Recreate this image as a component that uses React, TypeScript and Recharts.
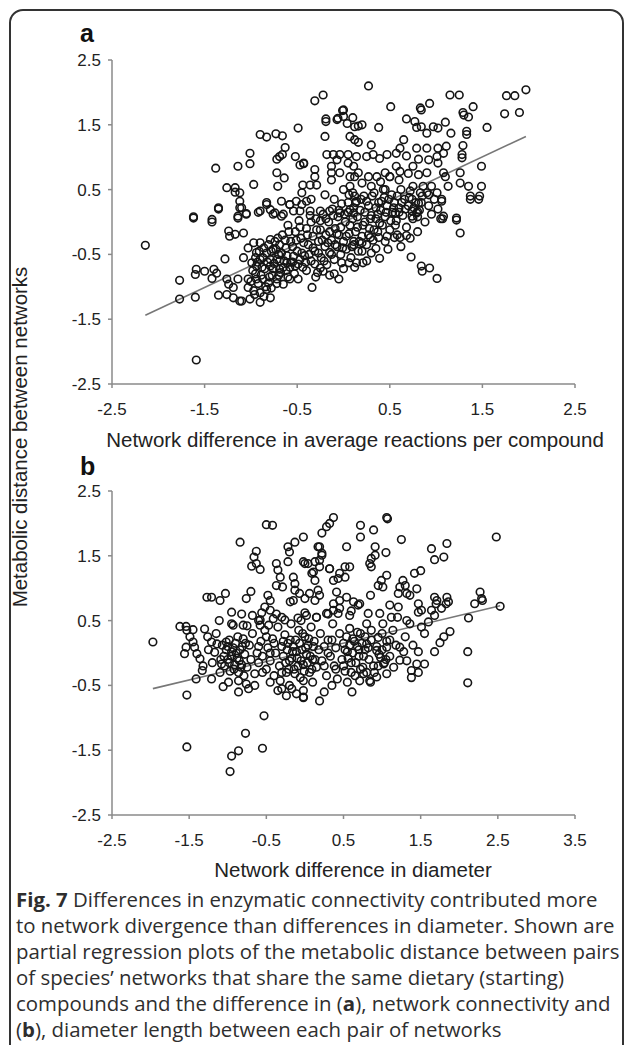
import React from 'react';
import { ScatterChart, Scatter, XAxis, YAxis, ReferenceLine } from 'recharts';

// tick values shared by both panels
const yTicks = [-2.5, -1.5, -0.5, 0.5, 1.5, 2.5];
const aTicksX = [-2.5, -1.5, -0.5, 0.5, 1.5, 2.5];
const bTicksX = [-2.5, -1.5, -0.5, 0.5, 1.5, 2.5, 3.5];

// regression line end points [x, y]
const aFit = [[-2.14, -1.44], [1.97, 1.32]];
const bFit = [[-1.97, -0.55], [2.53, 0.73]];

// panel a: difference in average reactions per compound vs metabolic distance
const aPoints = [
    [-0.22, 1.96], [-0.31, 1.87], [-0.01, 1.72], [0.0, 1.63], [0.1, 1.61], [-0.19, 1.59], [-0.19, 1.55],
    [-0.07, 1.58], [0.04, 1.52], [0.12, 1.47], [-0.2, 1.32], [0.07, 1.32], [-0.49, 1.45], [-0.9, 1.35],
    [-0.83, 1.31], [-0.73, 1.36], [-0.66, 1.33], [-0.63, 1.15], [-1.01, 1.06], [-1.01, 0.9], [-1.14, 0.86],
    [-1.38, 0.83], [-0.69, 1.01], [-0.66, 1.04], [-0.72, 0.97], [-0.52, 1.01], [-0.47, 0.88], [-0.43, 0.9],
    [-0.72, 0.76], [-0.64, 0.68], [-0.71, 0.55], [-0.31, 0.81], [-0.31, 0.7], [-0.36, 0.57], [-0.44, 0.57],
    [-0.29, 0.57], [-0.18, 1.04], [-0.11, 1.04], [-0.04, 1.04], [0.05, 1.04], [0.14, 1.01], [-0.13, 0.86],
    [-0.13, 0.76], [-0.13, 0.65], [-0.07, 0.96], [0.05, 0.91], [0.11, 0.86], [0.12, 0.7], [0.07, 0.55],
    [-0.97, 0.58], [-1.26, 0.53], [-1.17, 0.53], [-1.17, 0.46], [-1.12, 0.45], [-1.12, 0.32], [-1.12, 0.22],
    [-1.35, 0.22], [-1.62, 0.08], [-1.42, 0.04], [-0.83, 0.3], [-0.67, 0.32], [-0.58, 0.27], [-0.4, 0.32],
    [-0.45, 0.27], [-0.9, 0.17], [-0.79, 0.19], [-0.74, 0.14], [-0.65, 0.12], [-0.54, 0.17], [-0.47, 0.17],
    [-0.36, 0.17], [-0.25, 0.17], [-0.15, 0.17], [-0.04, 0.14], [0.07, 0.19], [0.14, 0.32], [0.11, 0.14],
    [0.06, 0.42], [0.12, 0.4], [-1.05, 0.13], [-1.14, 0.09],
    [0.27, 2.1], [0.51, 1.78], [0.83, 1.76], [0.84, 1.73], [0.93, 1.83], [1.15, 1.96], [1.25, 1.96],
    [1.76, 1.95], [1.85, 1.95], [1.97, 2.04], [1.74, 1.67], [1.9, 1.69], [1.29, 1.69], [1.3, 1.65],
    [1.4, 1.78], [1.35, 1.62], [1.55, 1.46], [1.1, 1.54], [1.16, 1.37], [1.33, 1.4], [1.33, 1.35],
    [0.68, 1.59], [0.77, 1.55], [0.84, 1.47], [0.9, 1.37], [0.97, 1.47], [1.02, 1.45], [0.79, 1.46],
    [0.38, 1.46], [0.0, 1.73], [0.16, 1.48], [0.2, 1.5], [-0.06, 1.6], [1.29, 1.18], [1.28, 1.04],
    [1.28, 0.99], [1.49, 0.86], [0.65, 1.27], [0.61, 1.14], [0.79, 1.14], [0.9, 1.14], [1.02, 1.14],
    [1.11, 1.17], [1.08, 1.06], [1.01, 1.01], [1.02, 0.91], [0.3, 1.19], [0.12, 1.27], [0.16, 1.23],
    [0.25, 1.01], [0.32, 1.04], [0.39, 0.98], [0.47, 1.04], [0.57, 1.06], [0.68, 1.02], [0.81, 0.97],
    [0.92, 0.96], [1.08, 0.76], [1.1, 0.7], [1.26, 0.76], [1.26, 0.6], [1.35, 0.55], [1.49, 0.55],
    [1.37, 0.4], [1.47, 0.4], [1.13, 0.55], [1.06, 0.35], [0.57, 0.86], [0.61, 0.78], [0.75, 0.86],
    [0.81, 0.73], [0.9, 0.76], [0.75, 0.55], [0.86, 0.55], [0.95, 0.55], [1.01, 0.45], [0.92, 0.42],
    [0.83, 0.45], [0.74, 0.35], [0.81, 0.29], [0.74, 0.17], [0.79, 0.14], [1.08, 0.09], [1.22, 0.06],
    [-0.43, 0.91], [-0.04, 0.76], [0.07, 0.7], [0.16, 0.76], [0.27, 0.7], [0.36, 0.7], [0.45, 0.76], [0.5, 0.7],
    [-2.14, -0.36], [-1.62, 0.06], [-1.42, 0.0], [-1.35, 0.2], [-1.1, 0.22], [-1.14, 0.06], [-1.05, 0.12],
    [-0.92, 0.15], [-0.83, 0.27], [-0.76, 0.12], [-0.67, 0.09], [-0.58, 0.27], [-0.51, 0.32], [-1.24, -0.14],
    [-1.17, -0.19], [-1.08, -0.17], [-1.23, -0.22], [-1.28, -0.57], [-1.59, -0.73], [-1.5, -0.76],
    [-1.4, -0.73], [-1.37, -0.79], [-1.42, -0.87], [-1.6, -0.81], [-1.77, -0.9], [-1.77, -1.19],
    [-1.6, -1.16], [-1.35, -1.13], [-1.26, -1.12], [-1.19, -1.17], [-1.12, -1.22], [-1.26, -0.88],
    [-1.24, -0.96], [-1.19, -1.01], [-1.14, -0.88], [-1.08, -0.55], [-1.03, -0.4], [-0.97, -0.32],
    [-0.9, -0.32], [-0.94, -0.47], [-0.9, -0.58], [-0.99, -0.63], [-0.94, -0.68], [-1.03, -0.88],
    [-0.94, -0.88], [-0.87, -0.88], [-0.81, -0.94], [-1.03, -1.01], [-0.97, -1.06], [-0.9, -1.09],
    [-0.83, -1.04], [-1.01, -1.19], [-0.9, -1.24], [-0.79, -1.17], [-1.1, -1.22], [-1.59, -2.13],
    [-0.79, -0.27], [-0.76, -0.42], [-0.69, -0.35], [-0.72, -0.58], [-0.79, -0.68], [-0.69, -0.73],
    [-0.61, -0.63], [-0.54, -0.53], [-0.47, -0.58], [-0.58, -0.88], [-0.49, -0.88], [-0.72, -0.88],
    [-0.65, -0.96], [-0.34, -1.01], [-0.25, -0.71], [-0.22, -0.76],
    [-0.02, -0.63], [0.06, -0.63], [0.14, -0.63], [0.21, -0.63], [0.35, -0.41], [0.39, -0.56], [0.73, -0.54],
    [0.84, -0.68], [0.85, -0.76], [0.93, -0.71], [1.01, -0.87], [1.07, 0.05], [1.22, 0.03], [1.26, -0.17],
    [0.74, 0.09], [0.8, 0.16], [0.29, -0.24], [0.38, -0.24], [0.47, -0.22], [0.55, -0.24], [0.61, -0.24],
    [0.68, -0.21], [0.56, -0.05], [0.56, 0.14], [0.6, 0.15], [0.2, -0.32], [0.2, -0.45], [0.11, -0.35],
    [1.37, 0.35], [1.46, 0.35], [1.06, 0.32],
    // dense middle band
    [-0.78, -0.45], [-0.7, -0.5], [-0.66, -0.2], [-0.62, -0.4], [-0.6, -0.05], [-0.57, -0.3], [-0.55, -0.62],
    [-0.52, -0.15], [-0.5, -0.45], [-0.48, 0.02], [-0.46, -0.25], [-0.44, -0.7], [-0.42, -0.52], [-0.4, -0.1],
    [-0.38, -0.35], [-0.36, 0.1], [-0.35, -0.6], [-0.33, -0.22], [-0.31, -0.45], [-0.3, 0.05], [-0.28, -0.78],
    [-0.27, -0.3], [-0.25, -0.12], [-0.24, -0.55], [-0.22, 0.12], [-0.2, -0.38], [-0.19, -0.2], [-0.18, -0.66],
    [-0.16, 0.0], [-0.15, -0.47], [-0.13, -0.28], [-0.12, 0.2], [-0.1, -0.58], [-0.09, -0.1], [-0.07, -0.38],
    [-0.06, 0.08], [-0.05, -0.2], [-0.03, -0.5], [-0.02, 0.28], [0.0, -0.3], [0.02, 0.0], [0.03, -0.42],
    [0.05, 0.15], [0.06, -0.18], [0.08, -0.55], [0.1, 0.05], [0.11, -0.3], [0.13, 0.3], [0.15, -0.08],
    [0.16, -0.45], [0.18, 0.18], [0.2, -0.22], [0.22, 0.4], [0.23, 0.0], [0.25, -0.35], [0.27, 0.25],
    [0.28, -0.1], [0.3, 0.1], [0.32, -0.28], [0.33, 0.45], [0.35, 0.05], [0.37, -0.15], [0.38, 0.3],
    [0.4, 0.18], [0.42, -0.05], [0.44, 0.38], [0.45, 0.08], [0.47, 0.25], [0.5, -0.12], [0.52, 0.42],
    [0.53, 0.15], [0.55, 0.3], [0.57, 0.02], [0.6, 0.22], [0.62, 0.5], [0.64, 0.1], [0.66, 0.35],
    [0.68, -0.08], [0.7, 0.25], [0.72, 0.48], [0.75, 0.05], [0.78, 0.3], [0.82, 0.18], [0.85, 0.4],
    [0.88, 0.0], [0.92, 0.25], [0.95, 0.12], [0.98, 0.35], [1.02, 0.2], [1.05, 0.05],
    [-0.98, -0.75], [-0.95, -0.55], [-0.92, -0.95], [-0.88, -0.7], [-0.86, -0.4], [-0.84, -1.0],
    [-0.82, -0.62], [-0.8, -0.85], [-0.76, -0.72], [-0.74, -0.3], [-0.72, -0.95], [-0.68, -0.78],
    [-0.64, -0.6], [-0.6, -0.85], [-0.58, -0.7],
    [-0.1, -0.8], [0.0, -0.72], [-0.05, -0.88], [0.12, -0.7], [0.25, -0.6], [0.3, -0.48], [0.45, -0.3],
    [0.48, -0.42], [0.58, -0.2], [0.62, -0.38], [0.72, -0.25], [0.8, -0.15],
    [-0.45, 0.45], [-0.35, 0.35], [-0.2, 0.42], [-0.1, 0.35], [0.0, 0.5], [0.1, 0.45], [0.2, 0.6],
    [0.3, 0.55], [0.4, 0.62], [0.5, 0.7], [0.6, 0.65], [0.7, 0.75], [0.45, 0.5],
    [-0.95, -0.8], [-0.93, -0.62], [-0.91, -0.45], [-0.89, -0.82], [-0.87, -0.55], [-0.85, -0.72],
    [-0.83, -0.48], [-0.81, -0.35], [-0.79, -0.58], [-0.77, -0.82], [-0.75, -0.64], [-0.73, -0.42],
    [-0.71, -0.25], [-0.69, -0.6], [-0.67, -0.48], [-0.65, -0.7], [-0.63, -0.28], [-0.61, -0.52],
    [-0.59, -0.15], [-0.57, -0.62], [-0.55, -0.38], [-0.53, -0.8], [-0.51, -0.28], [-0.49, -0.65],
    [-0.47, -0.08], [-0.45, -0.48], [-0.43, -0.32], [-0.41, -0.62], [-0.39, -0.2], [-0.37, -0.5],
    [-0.35, 0.0], [-0.33, -0.4], [-0.31, -0.65], [-0.29, -0.12], [-0.27, -0.48], [-0.25, 0.02],
    [-0.23, -0.28], [-0.21, -0.6], [-0.19, 0.05], [-0.17, -0.32], [-0.15, -0.15], [-0.13, -0.5],
    [-0.11, 0.1], [-0.09, -0.35], [-0.07, -0.18], [-0.05, 0.18], [-0.03, -0.08], [-0.01, -0.4],
    [0.01, 0.12], [0.03, -0.22], [0.05, 0.3], [0.07, -0.05], [0.09, -0.38], [0.11, 0.22], [0.13, -0.15],
    [0.15, 0.08], [0.17, -0.3], [0.19, 0.35], [0.21, -0.05], [0.23, 0.15], [0.25, 0.32], [0.27, -0.2],
    [0.29, 0.05], [0.31, 0.4], [0.33, -0.12], [0.35, 0.22], [0.37, 0.12], [0.39, -0.02], [0.41, 0.32],
    [0.43, 0.5], [0.46, 0.15], [0.49, 0.35], [0.51, 0.02], [0.54, 0.22], [0.58, 0.4], [0.63, 0.3],
    [0.67, 0.2], [0.71, 0.38], [0.76, 0.22], [0.8, 0.08], [0.84, 0.3], [0.9, 0.45], [-1.0, -0.92],
    [-0.96, -1.12], [-0.86, -1.15], [-0.78, -1.02], [-0.7, -0.82], [-0.62, -0.75], [-0.52, -0.68],
    [-0.4, -0.75], [-0.3, -0.85], [-0.15, -0.82],
];

// panel b: difference in diameter vs metabolic distance
const bPoints = [
    [-0.84, 1.71], [-0.5, 1.98], [-0.42, 1.97], [-0.63, 1.57], [-0.66, 1.48], [-0.69, 1.34], [-0.63, 1.38],
    [-0.58, 1.29], [-1.27, 0.86], [-1.21, 0.86], [-1.1, 0.81], [-1.03, 0.92], [-0.76, 0.84], [-0.7, 0.95],
    [-0.95, 0.63], [-0.82, 0.6], [-0.68, 0.58], [-0.56, 0.62], [-0.52, 0.71], [-0.45, 0.81], [-0.48, 0.89],
    [-0.37, 1.38], [-0.35, 1.28], [-0.32, 1.17], [-0.37, 1.04], [-0.29, 1.02], [-0.22, 1.64], [-0.2, 1.56],
    [-0.22, 1.41], [-0.13, 1.71], [-0.02, 1.79], [-0.15, 1.17], [-0.13, 1.07], [-0.13, 0.97], [-0.19, 0.79],
    [-0.15, 0.81], [-0.07, 0.92], [0.0, 0.84], [0.06, 0.92], [0.13, 0.81], [0.19, 0.89], [0.17, 0.97],
    [-0.02, 1.41], [0.04, 1.38], [0.13, 1.41], [0.11, 1.25], [0.13, 1.12], [0.19, 1.33], [0.17, 1.64],
    [0.22, 1.51], [0.22, 1.85], [0.28, 1.95], [0.37, 2.09], [0.32, 2.0], [0.32, 1.3], [0.37, 1.12],
    [0.43, 1.15], [0.41, 0.94], [0.37, 0.66], [0.43, 0.61], [-0.58, 0.51], [-0.41, 0.53], [-0.26, 0.51],
    [-0.09, 0.54], [0.02, 0.58], [0.15, 0.55], [0.28, 0.61],
    [0.72, 1.97], [0.72, 1.79], [0.89, 1.9], [1.06, 2.09], [1.07, 2.07], [1.25, 1.75], [2.48, 1.79],
    [0.19, 1.64], [0.22, 1.54], [0.19, 1.43], [0.0, 1.38], [0.09, 1.23], [0.32, 1.3], [0.45, 1.23],
    [0.52, 1.17], [0.54, 1.64], [0.52, 1.33], [0.58, 1.33], [0.91, 1.64], [0.91, 1.51], [0.86, 1.46],
    [0.84, 1.38], [0.86, 1.33], [1.05, 1.55], [1.64, 1.61], [1.84, 1.69], [1.68, 1.44], [1.8, 1.48],
    [1.42, 1.23], [1.5, 1.27], [1.06, 1.2], [0.99, 1.12], [1.01, 1.02], [0.95, 1.04], [1.27, 1.12],
    [1.3, 1.04], [1.23, 1.02], [1.21, 0.92], [1.32, 0.92], [1.45, 0.99], [1.36, 0.89], [0.85, 0.89],
    [0.54, 0.86], [0.63, 0.79], [0.71, 0.76], [0.45, 0.81], [1.68, 0.86], [1.84, 0.86], [1.86, 0.79],
    [1.7, 0.76], [1.47, 0.76], [1.51, 0.66], [1.64, 0.66], [2.27, 0.94], [2.29, 0.84], [2.2, 0.76],
    [2.53, 0.72], [2.12, 0.54],
    [-1.97, 0.17], [-1.62, 0.41], [-1.54, 0.41], [-1.53, 0.35], [-1.45, 0.36], [-1.54, 0.09], [-1.56, -0.01],
    [-1.49, 0.25], [-1.45, 0.17], [-1.43, 0.09], [-1.4, -0.01], [-1.36, -0.09], [-1.32, -0.2], [-1.33, -0.27],
    [-1.3, 0.37], [-1.26, 0.25], [-1.21, 0.17], [-1.41, -0.4], [-1.53, -0.65], [-1.53, -1.45], [-1.21, -0.4],
    [-1.06, -0.52], [-0.99, -0.45], [-1.08, -0.17], [-1.14, 0.14], [-1.17, 0.01], [-1.11, 0.5], [-1.02, 0.17],
    [-0.93, 0.43], [-0.8, 0.43], [-0.45, 0.66], [-0.37, 0.6], [-0.58, 0.43], [-0.47, 0.43], [-0.86, -0.43],
    [-0.76, -0.48], [-0.73, -0.55], [-0.65, -0.5], [-0.86, -0.6], [-0.53, -0.97], [-0.77, -1.24],
    [-0.55, -1.47], [-0.95, -1.59], [-0.86, -1.51], [-0.97, -1.83], [-0.24, -0.66], [-0.11, -0.63],
    [-0.02, -0.68], [-0.3, -0.55], [-0.17, -0.55], [-0.32, -0.43], [-0.02, -0.43], [0.19, -0.74],
    [2.3, 0.81], [2.11, 0.02], [2.11, -0.46], [1.88, 0.33], [1.8, 0.25], [1.75, 0.16], [1.68, 0.02],
    [1.47, 0.02], [1.55, -0.17], [1.45, -0.17], [1.38, -0.27], [1.47, -0.3], [1.38, -0.38], [1.32, -0.12],
    [1.51, 0.4], [1.6, 0.48], [1.68, 0.58], [1.77, 0.69], [1.83, 0.76], [1.71, 0.81], [1.47, 0.63],
    [1.36, 0.45], [1.32, 0.5], [0.61, -0.6], [-0.02, -0.58], [-0.02, -0.69], [0.71, -0.43], [0.84, -0.43],
    [0.76, -0.32], [0.93, -0.37], [1.06, -0.32], [1.15, -0.22], [1.23, -0.11], [1.23, 0.09], [1.28, 0.02],
    [1.06, 0.09], [0.93, 0.04], [0.98, -0.07], [1.02, -0.17], [0.89, -0.2], [0.8, 0.14], [0.95, 0.24],
    [0.86, 0.35], [1.01, 0.45], [1.12, 0.55], [1.21, 0.71], [1.1, 0.74], [0.97, 0.61], [0.82, 0.61],
    [0.69, 0.74], [0.58, 0.58], [0.45, 0.69], [0.37, 0.76], [0.15, 0.55],
    // dense middle band
    [-1.05, -0.05], [-1.0, 0.1], [-0.98, -0.15], [-0.95, 0.02], [-0.92, -0.25], [-0.9, 0.15], [-0.88, -0.08],
    [-0.86, -0.3], [-0.84, 0.05], [-0.82, -0.18], [-0.8, 0.22], [-0.78, -0.02], [-0.75, -0.22], [-0.72, 0.12],
    [-0.7, -0.1], [-0.68, 0.3], [-0.65, -0.32], [-0.62, 0.0], [-0.6, -0.15], [-0.57, 0.18], [-0.55, -0.05],
    [-0.52, 0.35], [-0.5, -0.25], [-0.48, 0.08], [-0.45, -0.12], [-0.42, 0.22], [-0.4, -0.35], [-0.38, 0.0],
    [-0.35, 0.4], [-0.33, -0.2], [-0.3, 0.1], [-0.28, -0.05], [-0.26, 0.28], [-0.24, -0.3], [-0.22, 0.15],
    [-0.2, -0.12], [-0.18, 0.45], [-0.16, 0.02], [-0.14, -0.25], [-0.12, 0.2], [-0.1, -0.08], [-0.08, 0.35],
    [-0.06, -0.38], [-0.04, 0.05], [-0.02, -0.18], [0.0, 0.25], [0.02, -0.02], [0.04, 0.12], [0.06, -0.3],
    [0.08, 0.4], [0.1, -0.1], [0.12, 0.18], [0.15, -0.22], [0.18, 0.05], [0.2, 0.3], [0.22, -0.12],
    [0.25, 0.1], [0.28, -0.35], [0.3, 0.2], [0.33, -0.05], [0.36, 0.45], [0.38, -0.2], [0.4, 0.08],
    [0.42, -0.4], [0.45, 0.3], [0.48, -0.1], [0.5, 0.15], [0.52, -0.28], [0.55, 0.02], [0.58, 0.38],
    [0.6, -0.15], [0.62, 0.22], [0.65, -0.35], [0.68, 0.1], [0.7, -0.05], [0.72, 0.3], [0.75, -0.22],
    [0.78, 0.05], [0.8, 0.45], [0.83, -0.1], [0.86, 0.2], [0.9, -0.3], [0.93, 0.1], [0.96, -0.02],
    [1.0, 0.3], [1.03, -0.15], [1.06, 0.18], [1.1, -0.05], [1.14, 0.35], [1.18, 0.12], [-1.25, 0.05],
    [-1.2, -0.15], [-1.15, 0.3], [-1.1, -0.3], [-0.6, 0.5], [-0.3, 0.55], [0.0, 0.62], [0.3, 0.6],
    [0.6, 0.65], [-0.45, -0.45], [-0.2, -0.5], [0.1, -0.45], [0.35, -0.5], [0.55, -0.45], [-0.95, 0.45],
    [-0.75, 0.42], [-0.05, 0.5], [0.25, -0.6], [-0.35, -0.58], [0.85, -0.45], [1.3, 0.25], [1.4, 0.12],
    [1.55, 0.3], [1.2, 0.55],
    [-1.04, -0.2], [-1.02, 0.05], [-1.0, -0.1], [-0.98, 0.2], [-0.97, -0.28], [-0.95, -0.05], [-0.93, 0.08],
    [-0.91, -0.18], [-0.89, 0.0], [-0.87, 0.25], [-0.85, -0.12], [-0.83, -0.22], [-0.81, 0.1], [-0.79, -0.35],
    [-0.77, 0.15], [-1.07, 0.12], [-1.09, -0.1],
    [-0.25, -0.15], [-0.23, 0.05], [-0.21, -0.25], [-0.19, 0.2], [-0.17, -0.08], [-0.15, 0.1], [-0.13, -0.32],
    [-0.11, 0.02], [-0.09, -0.2], [-0.07, 0.15], [-0.05, -0.12], [-0.03, 0.3], [-0.01, -0.28], [0.01, 0.08],
    [0.03, -0.15], [0.05, 0.22], [0.07, -0.05], [0.09, -0.25], [0.11, 0.1], [0.13, -0.1], [-0.28, 0.18],
    [-0.3, -0.3],
    [0.5, -0.2], [0.52, 0.05], [0.54, 0.25], [0.56, -0.08], [0.58, 0.12], [0.6, -0.3], [0.62, 0.0],
    [0.64, 0.18], [0.66, -0.15], [0.68, 0.32], [0.7, 0.05], [0.72, -0.25], [0.74, 0.15], [0.76, -0.05],
    [0.78, 0.25], [0.8, -0.3], [0.82, 0.08],
    [-0.6, 0.1], [-0.55, -0.3], [-0.5, 0.25], [-0.45, 0.0], [-0.4, 0.15], [0.25, -0.2], [0.3, 0.0],
    [0.35, 0.2], [0.4, -0.25], [0.95, -0.2], [1.0, 0.05], [1.05, -0.1], [1.1, 0.2],
];

const captionLines = [
    ['Fig. 7', ' Differences in enzymatic connectivity contributed more'],
    ['', 'to network divergence than differences in diameter. Shown are'],
    ['', 'partial regression plots of the metabolic distance between pairs'],
    ['', 'of species\u2019 networks that share the same dietary (starting)'],
];

const AXIS = '#8a8a8a';
const SANS = '"Liberation Sans", Arial, sans-serif';

function Ring(props: any) {
    const { cx, cy } = props;
    if (cx == null || cy == null) return null;
    return <circle cx={cx} cy={cy} r={3.8} fill="none" stroke="#151515" strokeWidth={1.6} />;
}

interface PanelProps {
    points: number[][];
    fit: number[][];
    xTicks: number[];
    top: number;
    height: number;
    marginTop: number;
    xAxisHeight: number;
}

function Panel({ points, fit, xTicks, top, height, marginTop, xAxisHeight }: PanelProps) {
    const rows = points.map(([x, y]) => ({ x, y }));
    const xMin = xTicks[0];
    const xMax = xTicks[xTicks.length - 1];
    const tickStyle = { fontSize: 17, fill: '#222', fontFamily: SANS };
    return (
        <div style={{ position: 'absolute', left: 0, top }}>
            <ScatterChart width={627} height={height} margin={{ top: marginTop, right: 52, bottom: 0, left: 0 }}>
                <XAxis
                    type="number"
                    dataKey="x"
                    domain={[xMin, xMax]}
                    ticks={xTicks}
                    interval={0}
                    height={xAxisHeight}
                    tickSize={4}
                    tickMargin={15}
                    axisLine={{ stroke: AXIS, strokeWidth: 1.5 }}
                    tickLine={{ stroke: AXIS, strokeWidth: 1.5 }}
                    tick={tickStyle}
                    tickFormatter={(v: number) => v.toFixed(1)}
                />
                <YAxis
                    type="number"
                    dataKey="y"
                    domain={[-2.5, 2.5]}
                    ticks={yTicks}
                    interval={0}
                    width={112}
                    tickSize={4}
                    tickMargin={7}
                    axisLine={{ stroke: AXIS, strokeWidth: 1.5 }}
                    tickLine={{ stroke: AXIS, strokeWidth: 1.5 }}
                    tick={tickStyle}
                    tickFormatter={(v: number) => v.toFixed(1)}
                />
                <Scatter data={rows} shape={Ring} isAnimationActive={false} />
                <ReferenceLine
                    segment={[{ x: fit[0][0], y: fit[0][1] }, { x: fit[1][0], y: fit[1][1] }]}
                    stroke="#777"
                    strokeWidth={1.6}
                    ifOverflow="visible"
                />
            </ScatterChart>
        </div>
    );
}

export default function App() {
    return (
        <div style={{ position: 'absolute', left: 0, top: 0, width: 627, height: 1045, background: '#fff', overflow: 'hidden' }}>
            <div
                style={{
                    position: 'absolute',
                    left: 9,
                    top: 9,
                    width: 615,
                    height: 1060,
                    boxSizing: 'border-box',
                    border: '2px solid #333',
                    borderRadius: 14,
                }}
            />
            <Panel points={aPoints} fit={aFit} xTicks={aTicksX} top={0} height={440} marginTop={60} xAxisHeight={56} />
            <Panel points={bPoints} fit={bFit} xTicks={bTicksX} top={440} height={420} marginTop={51} xAxisHeight={45} />
            <svg width={627} height={1045} style={{ position: 'absolute', left: 0, top: 0, pointerEvents: 'none' }}>
                <text x={80} y={42} fontFamily={SANS} fontWeight="bold" fontSize={25} fill="#111">a</text>
                <text x={80} y={475} fontFamily={SANS} fontWeight="bold" fontSize={25} fill="#111">b</text>
                <text x={355} y={447} textAnchor="middle" fontFamily={SANS} fontSize={20.5} fill="#222">
                    Network difference in average reactions per compound
                </text>
                <text x={353} y={877} textAnchor="middle" fontFamily={SANS} fontSize={20.5} fill="#222">
                    Network difference in diameter
                </text>
                <text
                    x={0}
                    y={0}
                    transform="translate(27 437) rotate(-90)"
                    textAnchor="middle"
                    fontFamily={SANS}
                    fontSize={20.5}
                    fill="#222"
                >
                    Metabolic distance between networks
                </text>
                <g fontFamily='"Open Sans", sans-serif' fontSize={20.4} fill="#2e2e2e">
                    {captionLines.map(([bold, rest], i) => (
                        <text key={i} x={16} y={907 + i * 26}>
                            {bold ? <tspan fontWeight="bold">{bold}</tspan> : null}
                            {rest}
                        </text>
                    ))}
                    <text x={16} y={1011}>
                        compounds and the difference in (<tspan fontWeight="bold">a</tspan>), network connectivity and
                    </text>
                    <text x={16} y={1037}>
                        (<tspan fontWeight="bold">b</tspan>), diameter length between each pair of networks
                    </text>
                </g>
            </svg>
        </div>
    );
}
